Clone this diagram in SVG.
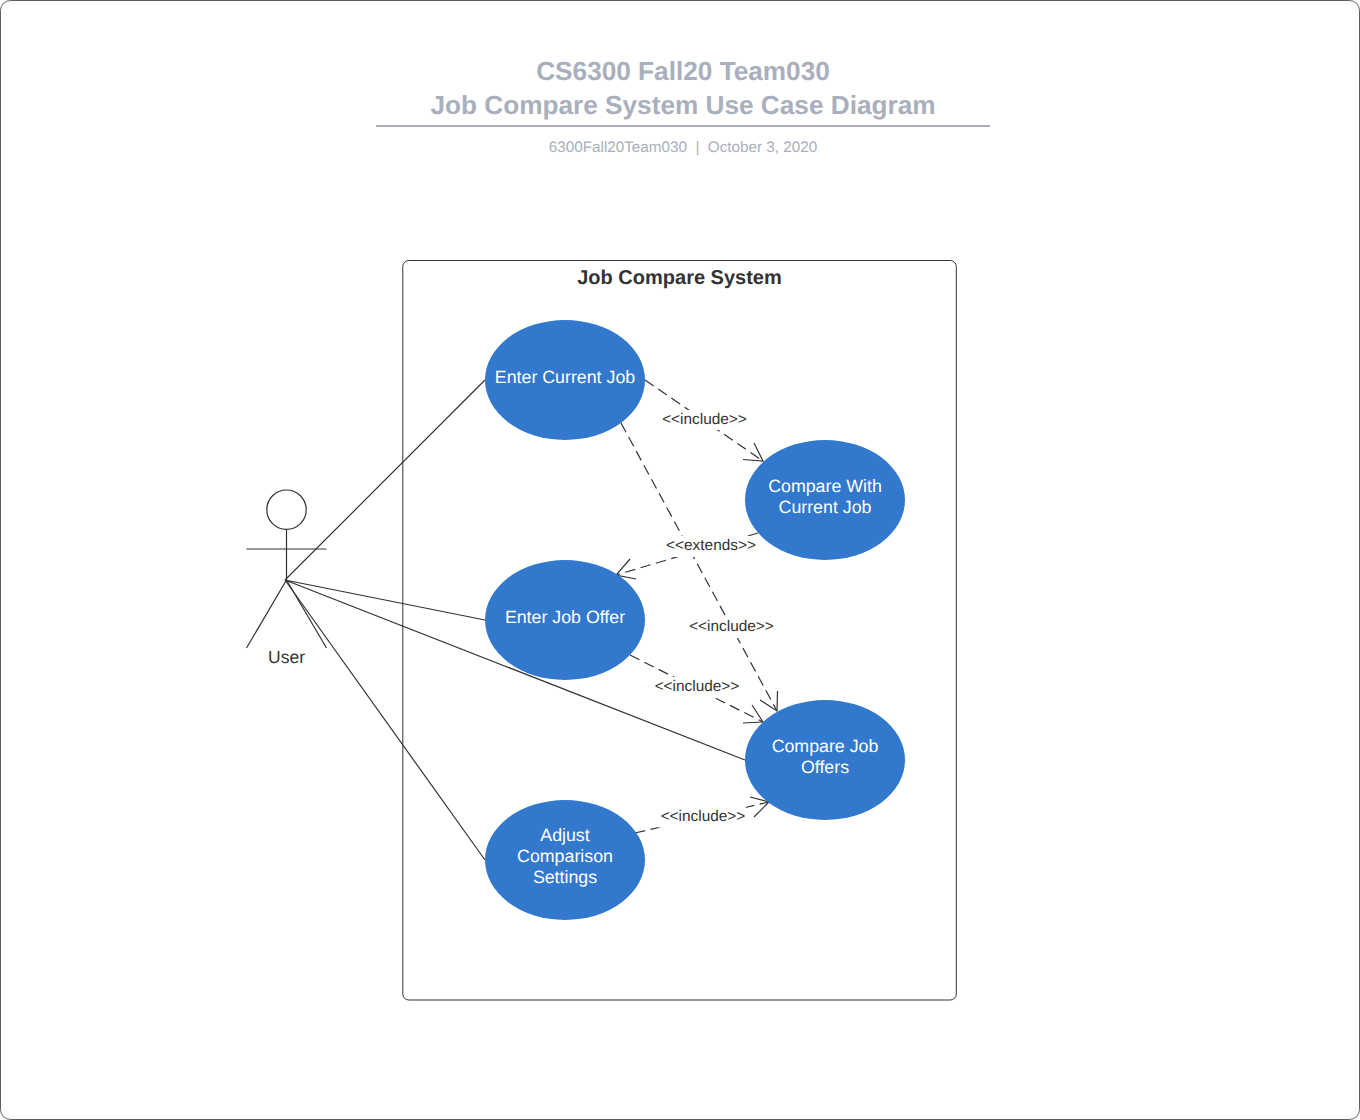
<svg xmlns="http://www.w3.org/2000/svg" width="1360" height="1120" viewBox="0 0 1360 1120">
<style>
text{font-family:"Liberation Sans",Arial,sans-serif;text-anchor:middle;white-space:pre;text-rendering:geometricPrecision}
.t{font-size:26.2px;font-weight:bold;fill:#a9afbc}
.s{font-size:15.25px;fill:#a9afbc}
.u{font-size:17.8px;fill:#ffffff}
.l{font-size:15.4px;fill:#333333}
.ln{fill:none;stroke:#333333;stroke-width:1.2}
.d{fill:none;stroke:#333333;stroke-width:1.2;stroke-dasharray:10.500 5.500}
.h{fill:none;stroke:#333333;stroke-width:1.2}
.e{fill:#3278cd}
.bg{fill:#ffffff}
</style>
<rect x="0.5" y="0.5" width="1359" height="1119" rx="10" fill="#ffffff" stroke="#5e5e5e" stroke-width="1"/>
<g id="title">
<text class="t" x="683" y="80">CS6300 Fall20 Team030</text>
<text class="t" x="683" y="114">Job Compare System Use Case Diagram</text>
<line x1="376" y1="126" x2="990" y2="126" stroke="#a9afbc" stroke-width="2"/>
<text class="s" x="683" y="152">6300Fall20Team030  |  October 3, 2020</text>
</g>
<g id="system">
<rect x="402.800" y="260.500" width="553.500" height="739.500" rx="6" fill="#ffffff" stroke="#333333" stroke-width="1"/>
<text x="679.500" y="284" font-size="20" font-weight="bold" fill="#333333">Job Compare System</text>
</g>
<g id="user">
<circle cx="286.500" cy="509.700" r="19.700" fill="#ffffff" stroke="#333333" stroke-width="1.200"/>
<path class="ln" d="M286.500 529.400V580M246.500 549H326.500M286.500 580L246.500 648M286.500 580L326.500 648"/>
<text x="286.500" y="663" font-size="17.500" fill="#333333">User</text>
</g>
<g id="connectors">
<path class="ln" d="M285 580L485 380M285 580L485 620M285 580L745 760M285 580L485 860"/>
<path class="d" d="M645 380L763 461"/>
<path class="h" d="M754 443L763 461L743 459.500"/>
<path class="d" d="M621 423L777 711"/>
<path class="h" d="M777.500 691L777 711L760 700"/>
<path class="d" d="M758 533L616 575"/>
<path class="h" d="M630 559L616 575L636 579"/>
<path class="d" d="M630 655L763 722"/>
<path class="h" d="M752 705L763 722L743 723"/>
<path class="d" d="M635 833L769 802"/>
<path class="h" d="M750 797L769 802L754 817"/>
<rect class="bg" x="659" y="410" width="92" height="20"/>
<rect class="bg" x="663" y="536" width="96" height="21"/>
<rect class="bg" x="686" y="617" width="92" height="21"/>
<rect class="bg" x="652" y="677" width="90" height="21"/>
<rect class="bg" x="658" y="807" width="88" height="20.500"/>
<text class="l" x="704.500" y="424">&lt;&lt;include&gt;&gt;</text>
<text class="l" x="711" y="550">&lt;&lt;extends&gt;&gt;</text>
<text class="l" x="731.500" y="631">&lt;&lt;include&gt;&gt;</text>
<text class="l" x="697" y="691">&lt;&lt;include&gt;&gt;</text>
<text class="l" x="703" y="821">&lt;&lt;include&gt;&gt;</text>
</g>
<g id="enter-current-job">
<ellipse class="e" cx="565" cy="380" rx="80" ry="60"/>
<text class="u" x="565" y="383">Enter Current Job</text>
</g>
<g id="compare-with-current-job">
<ellipse class="e" cx="825" cy="500" rx="80" ry="60"/>
<text class="u" x="825" y="492">Compare With</text>
<text class="u" x="825" y="513">Current Job</text>
</g>
<g id="enter-job-offer">
<ellipse class="e" cx="565" cy="620" rx="80" ry="60"/>
<text class="u" x="565" y="623">Enter Job Offer</text>
</g>
<g id="compare-job-offers">
<ellipse class="e" cx="825" cy="760" rx="80" ry="60"/>
<text class="u" x="825" y="752">Compare Job</text>
<text class="u" x="825" y="773">Offers</text>
</g>
<g id="adjust-comparison-settings">
<ellipse class="e" cx="565" cy="860" rx="80" ry="60"/>
<text class="u" x="565" y="840.500">Adjust</text>
<text class="u" x="565" y="862">Comparison</text>
<text class="u" x="565" y="883">Settings</text>
</g>
</svg>
